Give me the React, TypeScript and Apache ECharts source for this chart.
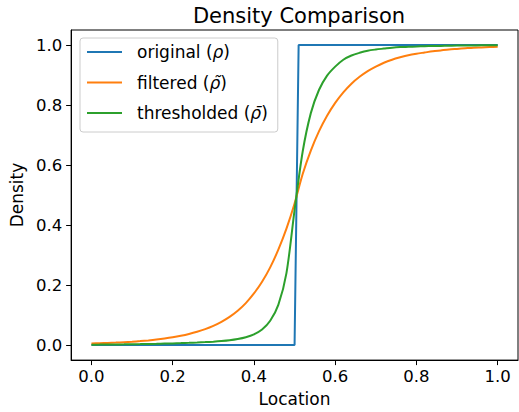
import React, { useEffect, useRef } from "react";
import * as echarts from "echarts";

// Step profile of the original design
const originalX = [0, 0.5, 0.51, 1.0];
const originalY = [0, 0, 1, 1];

// Shared sample locations (0.00 to 1.00, step 0.02) for the smooth profiles
const locations = Array.from({ length: 51 }, (_, i) => Math.round(i * 2) / 100);

const filteredY = [
  0.0055, 0.0063, 0.0072, 0.0083, 0.0097, 0.0113, 0.0133, 0.0157, 0.0185, 0.0219, 0.026,
  0.031, 0.037, 0.0443, 0.0532, 0.0641, 0.0775, 0.094, 0.1145, 0.14, 0.172, 0.211, 0.259,
  0.318, 0.388, 0.472, 0.57, 0.648, 0.712, 0.764, 0.807, 0.842, 0.871, 0.894, 0.913, 0.928,
  0.941, 0.951, 0.959, 0.966, 0.971, 0.975, 0.979, 0.982, 0.985, 0.987, 0.989, 0.991, 0.992,
  0.993, 0.994,
];

const thresholdY = [
  0.0014, 0.0016, 0.0019, 0.0022, 0.0025, 0.0029, 0.0033, 0.0038, 0.0043, 0.005, 0.0057,
  0.0066, 0.0076, 0.0087, 0.01, 0.0115, 0.0135, 0.0162, 0.0203, 0.0264, 0.036, 0.052, 0.081,
  0.134, 0.24, 0.45, 0.645, 0.773, 0.85, 0.898, 0.928, 0.951, 0.965, 0.974, 0.981, 0.985,
  0.988, 0.991, 0.993, 0.994, 0.995, 0.996, 0.9965, 0.997, 0.9975, 0.998, 0.998, 0.9985,
  0.999, 0.999, 0.999,
];

const tickValues = [0, 0.2, 0.4, 0.6, 0.8, 1.0];
const seriesNames = ["original (ρ)", "filtered (ρ̃)", "thresholded (ρ̄)"];
const colors = ["#1f77b4", "#ff7f0e", "#2ca02c"];

const zip = (xs: number[], ys: number[]) => xs.map((x, i) => [x, ys[i]]);

const FONT = "DejaVu Sans";

export default function App() {
  const ref = useRef<HTMLDivElement>(null);

  useEffect(() => {
    if (!ref.current) return;
    const chart = echarts.init(ref.current, undefined, { renderer: "svg" });

    const axisCommon = {
      type: "value" as const,
      min: -0.05,
      max: 1.05,
      splitLine: { show: false },
      axisLine: { show: true, onZero: false, lineStyle: { color: "#000", width: 1 } },
      axisTick: {
        show: true,
        length: 5,
        customValues: tickValues,
        lineStyle: { color: "#000", width: 1 },
      },
      nameTextStyle: { fontFamily: FONT, fontSize: 17, color: "#000" },
    };

    const tickLabel = {
      customValues: tickValues,
      fontFamily: FONT,
      fontSize: 16.5,
      color: "#000",
      formatter: (v: number) => v.toFixed(1),
    };

    chart.setOption({
      animation: false,
      title: {
        text: "Density Comparison",
        left: 294,
        top: 0,
        textAlign: "center",
        textStyle: { fontFamily: FONT, fontSize: 21, fontWeight: "normal", color: "#000" },
      },
      grid: {
        left: 71,
        right: 1,
        top: 30,
        bottom: 51,
        show: true,
        borderColor: "#000",
        borderWidth: 1,
        containLabel: false,
      },
      legend: {
        left: 80,
        top: 38,
        orient: "vertical",
        data: seriesNames.map((name) => ({ name, icon: "rect" })),
        itemWidth: 35,
        itemHeight: 2,
        itemGap: 12.5,
        padding: [5, 10, 10, 7],
        backgroundColor: "rgba(255,255,255,0.8)",
        borderColor: "#cccccc",
        borderWidth: 1,
        borderRadius: 3,
        formatter: (name: string) => name.replace(/\((.+)\)/, "({i|$1})"),
        textStyle: {
          fontFamily: FONT,
          fontSize: 17,
          lineHeight: 18,
          color: "#000",
          padding: [0, 0, 0, 10],
          rich: {
            i: { fontFamily: FONT, fontSize: 17, lineHeight: 18, fontStyle: "italic", color: "#000" },
          },
        },
      },
      xAxis: {
        ...axisCommon,
        name: "Location",
        nameLocation: "middle",
        nameGap: 29,
        axisLabel: { ...tickLabel, margin: 8 },
      },
      yAxis: {
        ...axisCommon,
        name: "Density",
        nameLocation: "middle",
        nameGap: 38,
        axisLabel: { ...tickLabel, margin: 9 },
      },
      series: [
        {
          name: seriesNames[0],
          type: "line",
          data: zip(originalX, originalY),
          symbol: "none",
          lineStyle: { color: colors[0], width: 2 },
          itemStyle: { color: colors[0] },
          z: 2,
        },
        {
          name: seriesNames[1],
          type: "line",
          data: zip(locations, filteredY),
          symbol: "none",
          smooth: 0.3,
          lineStyle: { color: colors[1], width: 2 },
          itemStyle: { color: colors[1] },
          z: 3,
        },
        {
          name: seriesNames[2],
          type: "line",
          data: zip(locations, thresholdY),
          symbol: "none",
          smooth: 0.3,
          lineStyle: { color: colors[2], width: 2 },
          itemStyle: { color: colors[2] },
          z: 4,
        },
      ],
    });

    return () => chart.dispose();
  }, []);

  return (
    <div
      ref={ref}
      style={{ position: "fixed", left: 0, top: 0, width: 519, height: 412, background: "#fff" }}
    />
  );
}
